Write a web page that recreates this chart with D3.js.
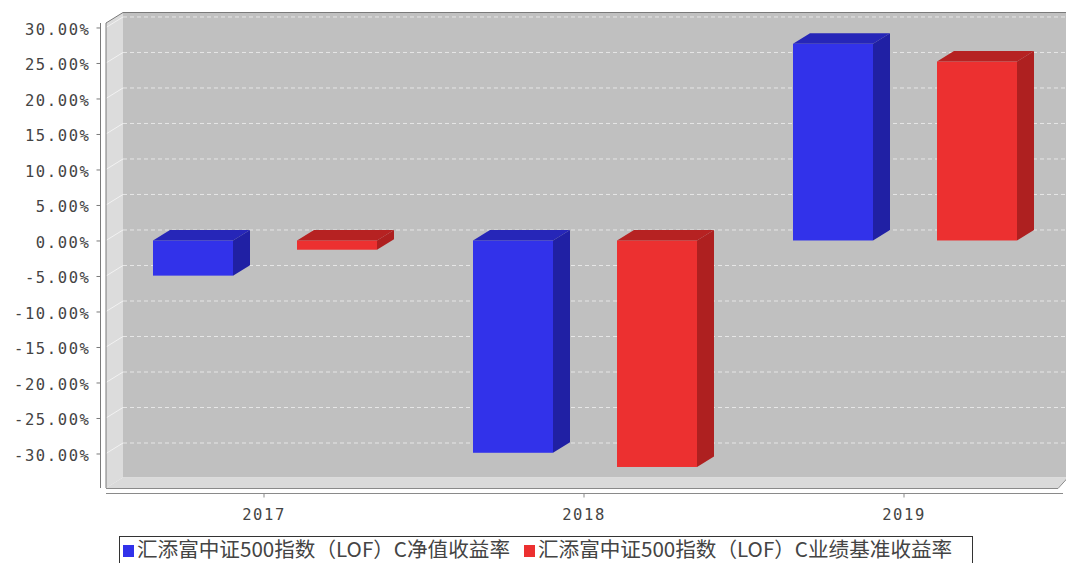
<!DOCTYPE html>
<html>
<head>
<meta charset="utf-8">
<script src="https://cdn.jsdelivr.net/npm/d3@7"></script>
<style>
  body { margin: 0; background: #fff; }
  svg { display: block; }
</style>
</head>
<body>
<div id="chart"></div>
<script>
// Data
const years = ["2017", "2018", "2019"];
const seriesNames = ["汇添富中证500指数（LOF）C净值收益率", "汇添富中证500指数（LOF）C业绩基准收益率"];
const navReturn = [-4.95, -29.9, 27.7];
const benchReturn = [-1.3, -31.9, 25.2];
const yTicks = [-30, -25, -20, -15, -10, -5, 0, 5, 10, 15, 20, 25, 30];

const width = 1066;
const height = 563;

// 3D depth offset
const depth = { dx: 17, dy: -10.5 };

// Front plane of the plot
const plot = { left: 106, right: 1050, top: 23, bottom: 488 };

const colors = [
    { front: "#3232ea", side: "#2020a4", top: "#2626b8" },
    { front: "#ec3030", side: "#ae2020", top: "#b62222" }
];

const svg = d3.select("#chart")
    .append("svg")
    .attr("width", width)
    .attr("height", height);

// Scales
const y = d3.scaleLinear()
    .domain([-34.86, 30.63])
    .range([plot.bottom, plot.top]);

const x = d3.scaleBand()
    .domain(years)
    .range([104, 1064])
    .padding(0);

const xInner = d3.scaleBand()
    .domain([0, 1])
    .range([49, 273])
    .paddingInner(64 / 144)
    .paddingOuter(0);

// Back wall
svg.append("rect")
    .attr("x", plot.left + depth.dx)
    .attr("y", plot.top + depth.dy)
    .attr("width", width - plot.left - depth.dx)
    .attr("height", plot.bottom - plot.top)
    .attr("fill", "#c0c0c0");

// Left side wall
svg.append("polygon")
    .attr("points", [
        [plot.left, plot.top],
        [plot.left + depth.dx, plot.top + depth.dy],
        [plot.left + depth.dx, plot.bottom + depth.dy],
        [plot.left, plot.bottom]
    ].map(p => p.join(",")).join(" "))
    .attr("fill", "#dcdcdc");

// Floor
svg.append("polygon")
    .attr("points", [
        [plot.left, plot.bottom],
        [plot.left + depth.dx, plot.bottom + depth.dy],
        [width + 2, plot.bottom + depth.dy],
        [plot.right + 8, plot.bottom]
    ].map(p => p.join(",")).join(" "))
    .attr("fill", "#dadada");

// Gridlines on back wall
svg.selectAll(".grid")
    .data(yTicks)
    .join("line")
    .attr("class", "grid")
    .attr("x1", plot.left + depth.dx)
    .attr("x2", width)
    .attr("y1", d => y(d) + depth.dy)
    .attr("y2", d => y(d) + depth.dy)
    .attr("stroke", "#e6e6e6")
    .attr("stroke-width", 1)
    .attr("stroke-dasharray", "4,3");

// Faint gridlines on side wall
svg.selectAll(".sidegrid")
    .data(yTicks)
    .join("line")
    .attr("class", "sidegrid")
    .attr("x1", plot.left)
    .attr("x2", plot.left + depth.dx)
    .attr("y1", d => y(d))
    .attr("y2", d => y(d) + depth.dy)
    .attr("stroke", "#f2f2f2")
    .attr("stroke-width", 1);

// Frame edges
const frame = d3.path();
frame.moveTo(plot.left, plot.bottom);
frame.lineTo(plot.left, plot.top);
frame.lineTo(plot.left + depth.dx, plot.top + depth.dy);
frame.lineTo(width, plot.top + depth.dy);
svg.append("path")
    .attr("d", frame.toString())
    .attr("fill", "none")
    .attr("stroke", "#7a7a7a")
    .attr("stroke-width", 1);

svg.append("line")
    .attr("x1", plot.left)
    .attr("x2", plot.right + 8)
    .attr("y1", plot.bottom + 0.5)
    .attr("y2", plot.bottom + 0.5)
    .attr("stroke", "#8a8a8a");

svg.append("line")
    .attr("x1", plot.right + 8)
    .attr("x2", width + 2)
    .attr("y1", plot.bottom + 0.5)
    .attr("y2", plot.bottom + depth.dy)
    .attr("stroke", "#8a8a8a");

// Bars
const barData = [];
years.forEach((yr, i) => {
    [navReturn[i], benchReturn[i]].forEach((v, s) => {
        barData.push({ year: yr, series: s, value: v });
    });
});

const bars = svg.selectAll(".bar")
    .data(barData)
    .join("g")
    .attr("class", "bar");

bars.each(function (d) {
    const g = d3.select(this);
    const x0 = x(d.year) + xInner(d.series);
    const x1 = x0 + xInner.bandwidth();
    const yTop = Math.min(y(d.value), y(0));
    const yBot = Math.max(y(d.value), y(0));
    const c = colors[d.series];

    // front face
    g.append("rect")
        .attr("x", x0)
        .attr("y", yTop)
        .attr("width", x1 - x0)
        .attr("height", yBot - yTop)
        .attr("fill", c.front);

    // top face
    g.append("polygon")
        .attr("points", [
            [x0, yTop],
            [x0 + depth.dx, yTop + depth.dy],
            [x1 + depth.dx, yTop + depth.dy],
            [x1, yTop]
        ].map(p => p.join(",")).join(" "))
        .attr("fill", c.top);

    // side face
    g.append("polygon")
        .attr("points", [
            [x1, yTop],
            [x1 + depth.dx, yTop + depth.dy],
            [x1 + depth.dx, yBot + depth.dy],
            [x1, yBot]
        ].map(p => p.join(",")).join(" "))
        .attr("fill", c.side);
});

// Y axis
const yAxis = svg.append("g")
    .attr("transform", "translate(100.5,0)")
    .call(d3.axisLeft(y)
        .tickValues(yTicks)
        .tickSize(4)
        .tickSizeOuter(0)
        .tickFormat(d => d.toFixed(2) + "%"));

yAxis.select(".domain")
    .attr("stroke", "#7a7a7a")
    .attr("d", `M0,${plot.top}V${plot.bottom}`);
yAxis.selectAll(".tick line").attr("stroke", "#7a7a7a");
yAxis.selectAll(".tick text")
    .attr("x", -10)
    .attr("dy", "0.45em")
    .style("font-family", "'DejaVu Sans Mono', monospace")
    .style("font-size", "15.5px")
    .style("letter-spacing", "1.6px")
    .attr("fill", "#444");

// X axis
const xAxis = svg.append("g")
    .attr("transform", `translate(0,493.5)`)
    .call(d3.axisBottom(x).tickSize(4).tickSizeOuter(0));

xAxis.select(".domain")
    .attr("stroke", "#8a8a8a")
    .attr("d", `M${plot.left},0H${width - 3}`);
xAxis.selectAll(".tick line").attr("stroke", "#8a8a8a");
xAxis.selectAll(".tick text")
    .attr("y", 15)
    .attr("dy", "0.71em")
    .style("font-family", "'DejaVu Sans Mono', monospace")
    .style("font-size", "15.5px")
    .style("letter-spacing", "1.6px")
    .attr("fill", "#444");

// Legend
const legend = svg.append("g");
legend.append("rect")
    .attr("x", 119.5)
    .attr("y", 536.5)
    .attr("width", 853)
    .attr("height", 40)
    .attr("fill", "#fff")
    .attr("stroke", "#333");

const legendX = [123, 524];
seriesNames.forEach((name, i) => {
    legend.append("rect")
        .attr("x", legendX[i])
        .attr("y", 545)
        .attr("width", 11)
        .attr("height", 12)
        .attr("fill", colors[i].front);
    legend.append("text")
        .attr("x", legendX[i] + 14)
        .attr("y", 557)
        .style("font-family", "'Noto Sans CJK SC', sans-serif")
        .style("font-size", "20.6px")
        .attr("fill", "#444")
        .text(name);
});
</script>
</body>
</html>
